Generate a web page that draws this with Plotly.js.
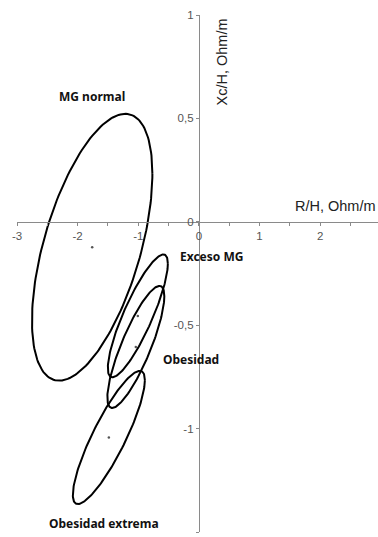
<!DOCTYPE html>
<html>
<head>
<meta charset="utf-8">
<script src="https://cdn.plot.ly/plotly-3.0.1.min.js"></script>
<style>html,body{margin:0;padding:0;background:#fff;}#chart{width:378px;height:537px;}</style>
</head>
<body>
<div id="chart"></div>
<script>
// Groups and tolerance-ellipse parameters (R/H vs Xc/H)
const groups   = ["MG normal", "Exceso MG", "Obesidad", "Obesidad extrema"];
const centerR  = [-1.76, -1.007, -1.04, -1.485];
const centerXc = [-0.123, -0.455, -0.605, -1.043];
const semiR    = [0.993, 0.495, 0.47, 0.594];
const semiXc   = [0.645, 0.297, 0.295, 0.322];
const corr     = [0.55, 0.85, 0.83, 0.86];

// Label positions for the groups
const labelR  = [-1.77, 0.21, -0.13, -1.57];
const labelXc = [0.605, -0.168, -0.664, -1.457];

// Axis ticks
const xTickVals = [-3, -2.5, -2, -1.5, -1, -0.5, 0, 0.5, 1, 1.5, 2, 2.5, 3];
const xTickText = ["-3", "", "-2", "", "-1", "", "0", "", "1", "", "2", "", "3"];
const yTickVals = [-1.5, -1, -0.5, 0, 0.5, 1];
const yTickText = ["-1,5", "-1", "-0,5", "0", "0,5", "1"];

const traces = [];
const N = 181;
groups.forEach((g, i) => {
  const xs = [], ys = [];
  const q = Math.sqrt(1 - corr[i] * corr[i]);
  for (let k = 0; k < N; k++) {
    const t = 2 * Math.PI * k / (N - 1);
    xs.push(centerR[i] + semiR[i] * Math.cos(t));
    ys.push(centerXc[i] + semiXc[i] * (corr[i] * Math.cos(t) + q * Math.sin(t)));
  }
  traces.push({x: xs, y: ys, mode: 'lines', type: 'scatter', name: g,
    line: {color: '#000', width: 2}, hoverinfo: 'skip'});
});
traces.push({x: centerR, y: centerXc, mode: 'markers', type: 'scatter',
  marker: {color: '#555', size: 2.5}, hoverinfo: 'skip'});

const xMin = -3, xMax = 2.954, yMin = -1.5, yMax = 1;
const labelFont = {family: 'Noto Sans, sans-serif', size: 12, color: '#111'};
const annotations = groups.map((g, i) => ({
  x: labelR[i], y: labelXc[i], xref: 'x', yref: 'y', text: '<b>' + g + '</b>',
  showarrow: false, font: labelFont, xanchor: 'center', yanchor: 'middle'
}));
annotations.push({x: 1, xref: 'paper', xanchor: 'right', y: 0.077, yref: 'y', yanchor: 'middle',
  text: 'R/H, Ohm/m', showarrow: false,
  font: {family: 'Liberation Sans, Arial, sans-serif', size: 14.5, color: '#222'}});
annotations.push({x: 0.38, xref: 'x', xanchor: 'center', y: 0.775, yref: 'y', yanchor: 'middle',
  text: 'Xc/H, Ohm/m', textangle: -90, showarrow: false,
  font: {family: 'Liberation Sans, Arial, sans-serif', size: 14.5, color: '#222'}});

const tickFont = {family: 'Liberation Sans, Arial, sans-serif', size: 11.5, color: '#555'};
const layout = {
  width: 378, height: 537,
  margin: {l: 17, r: 0, t: 15, b: 5},
  paper_bgcolor: '#fff', plot_bgcolor: '#fff',
  showlegend: false,
  xaxis: {
    range: [xMin, xMax], anchor: 'free', position: (0 - yMin) / (yMax - yMin),
    showgrid: false, zeroline: false, showline: true, linecolor: '#8a8a8a', linewidth: 1,
    tickmode: 'array', tickvals: xTickVals, ticktext: xTickText,
    ticks: 'outside', ticklen: 3, tickcolor: '#8a8a8a', tickfont: tickFont
  },
  yaxis: {
    range: [yMin, yMax], anchor: 'free', position: (0 - xMin) / (xMax - xMin),
    showgrid: false, zeroline: false, showline: true, linecolor: '#8a8a8a', linewidth: 1,
    tickmode: 'array', tickvals: yTickVals, ticktext: yTickText,
    ticks: 'outside', ticklen: 3, tickcolor: '#8a8a8a', tickfont: tickFont
  },
  annotations: annotations
};
Plotly.newPlot('chart', traces, layout, {displayModeBar: false, staticPlot: true});
</script>
</body>
</html>
